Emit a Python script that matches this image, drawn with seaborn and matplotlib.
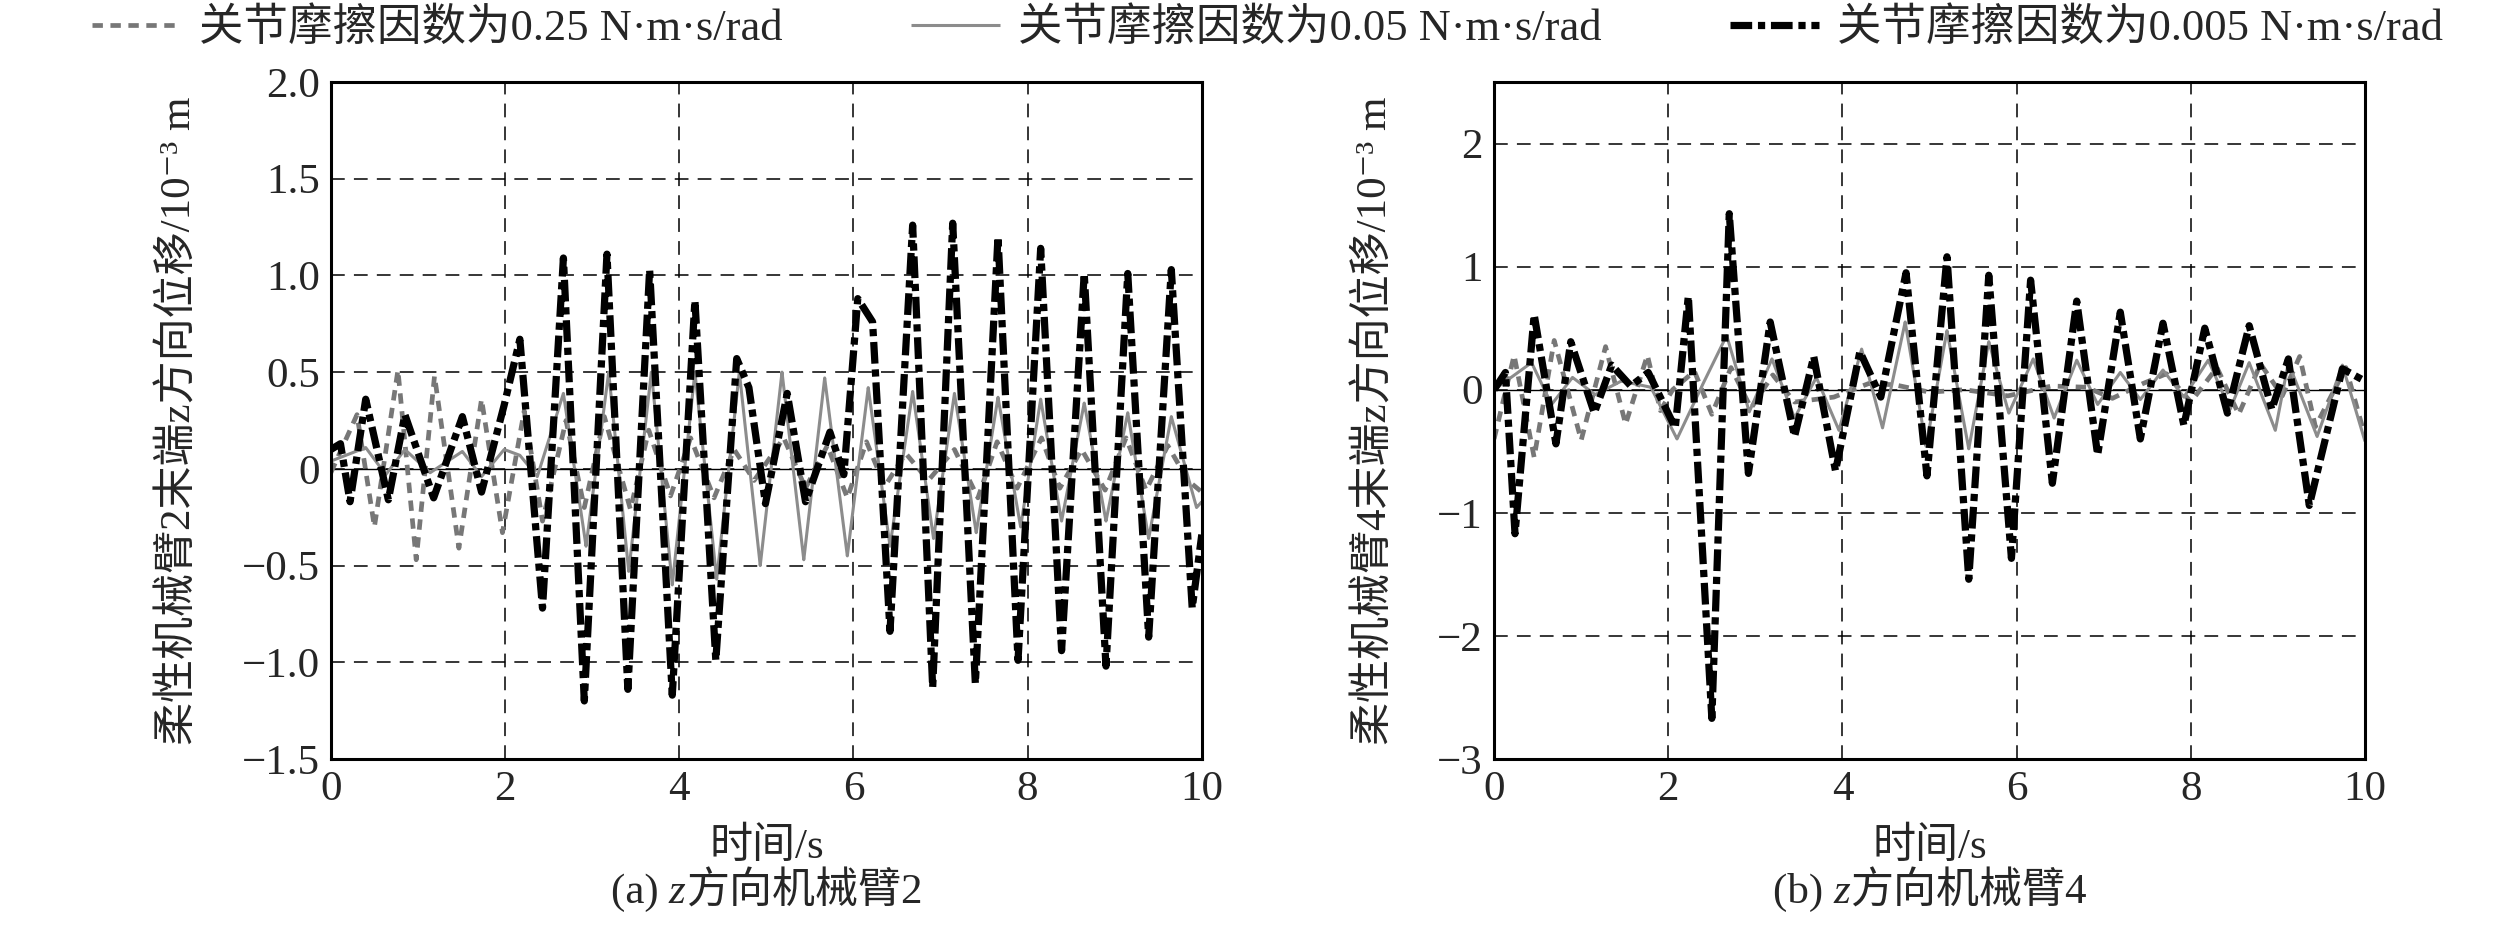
import matplotlib
matplotlib.use("Agg")
import matplotlib.pyplot as plt
from matplotlib.ticker import FuncFormatter
from matplotlib.offsetbox import TextArea, HPacker, AnchoredOffsetbox
import seaborn as sns
import pandas as pd

sns.set_style("white")
plt.rcParams['font.family'] = ['Liberation Serif', 'Noto Sans CJK SC', 'DejaVu Sans']
plt.rcParams['axes.unicode_minus'] = True

# legend labels
labels = ["关节摩擦因数为0.25 N·m·s/rad",
          "关节摩擦因数为0.05 N·m·s/rad",
          "关节摩擦因数为0.005 N·m·s/rad"]

# ---- panel (a): arm 2 (time s, displacement 1e-3 m)
a_t_025 = [0, 0.30, 0.50, 0.77, 0.98, 1.19, 1.47, 1.73, 1.97, 2.22, 2.43, 2.70, 2.91, 3.14, 3.44,
           3.65, 3.90, 4.13, 4.40, 4.63, 4.86, 5.20, 5.45, 5.70, 5.93, 6.15, 6.36, 6.60, 6.86,
           7.16, 7.43, 7.65, 7.88, 8.16, 8.37, 8.62, 8.89, 9.13, 9.36, 9.61, 9.84, 10.0]
a_y_025 = [-0.02, 0.28, -0.30, 0.51, -0.47, 0.48, -0.41, 0.36, -0.33, 0.30, -0.27, 0.25, -0.20, 0.27,
           -0.21, 0.20, -0.14, 0.16, -0.15, 0.10, -0.06, 0.16, -0.10, 0.12, -0.15, 0.14, -0.09,
           0.08, -0.06, 0.10, -0.15, 0.14, -0.10, 0.16, -0.10, 0.10, -0.11, 0.16, -0.11, 0.12,
           -0.06, -0.12]

a_t_005 = [0, 0.40, 0.63, 0.85, 1.14, 1.51, 1.73, 1.99, 2.17, 2.37, 2.67, 2.93, 3.19, 3.42, 3.68,
           3.92, 4.18, 4.43, 4.69, 4.93, 5.18, 5.43, 5.67, 5.93, 6.17, 6.42, 6.68, 6.92, 7.16,
           7.41, 7.66, 7.92, 8.15, 8.39, 8.65, 8.90, 9.15, 9.39, 9.65, 9.94, 10.0]
a_y_005 = [0.04, 0.11, -0.03, 0.10, -0.02, 0.09, -0.04, 0.10, 0.07, -0.04, 0.39, -0.40, 0.50, -0.53,
           0.50, -0.60, 0.50, -0.57, 0.50, -0.50, 0.50, -0.47, 0.47, -0.45, 0.42, -0.40, 0.40,
           -0.36, 0.39, -0.33, 0.37, -0.30, 0.36, -0.27, 0.34, -0.27, 0.29, -0.36, 0.27, -0.20,
           -0.17]

a_t_0005 = [0, 0.11, 0.22, 0.40, 0.66, 0.85, 1.18, 1.51, 1.73, 1.99, 2.17, 2.43, 2.67, 2.91, 3.17,
            3.41, 3.66, 3.92, 4.18, 4.42, 4.66, 4.80, 4.99, 5.24, 5.45, 5.73, 5.89, 6.05, 6.22,
            6.42, 6.68, 6.91, 7.14, 7.40, 7.66, 7.89, 8.15, 8.39, 8.65, 8.90, 9.15, 9.39, 9.65,
            9.89, 10.0]
a_y_0005 = [0.10, 0.13, -0.17, 0.36, -0.16, 0.28, -0.15, 0.27, -0.12, 0.33, 0.67, -0.72, 1.09, -1.20,
            1.11, -1.14, 1.03, -1.17, 0.87, -0.99, 0.57, 0.42, -0.18, 0.39, -0.17, 0.19, -0.03,
            0.88, 0.76, -0.84, 1.26, -1.13, 1.27, -1.11, 1.20, -0.99, 1.14, -0.94, 1.01, -1.02,
            1.01, -0.87, 1.03, -0.72, -0.34]

# ---- panel (b): arm 4
b_t_025 = [0, 0.23, 0.46, 0.69, 1.00, 1.28, 1.51, 1.76, 1.91, 2.05, 2.30, 2.50, 2.72, 2.95, 3.20,
           3.45, 3.90, 4.30, 4.60, 5.00, 5.40, 5.90, 6.40, 6.80, 7.10, 7.45, 7.72, 8.00, 8.30,
           8.55, 8.80, 9.05, 9.25, 9.43, 9.78, 10.0]
b_y_025 = [-0.40, 0.28, -0.55, 0.40, -0.41, 0.35, -0.28, 0.28, -0.17, 0.0, 0.15, -0.20, 0.18, -0.15,
           0.12, -0.10, -0.06, 0.05, 0.04, -0.02, 0.0, -0.05, 0.03, 0.02, -0.07, 0.05, 0.13, -0.10,
           0.18, -0.20, 0.21, -0.05, 0.27, -0.30, 0.18, -0.38]

b_t_005 = [0, 0.43, 0.66, 0.90, 1.16, 1.46, 1.80, 2.10, 2.40, 2.67, 2.93, 3.19, 3.45, 3.70, 3.96,
           4.22, 4.46, 4.72, 4.96, 5.20, 5.45, 5.68, 5.91, 6.19, 6.43, 6.69, 6.93, 7.19, 7.42,
           7.68, 7.92, 8.20, 8.45, 8.67, 8.97, 9.12, 9.45, 9.74, 10.0]
b_y_005 = [0.0, 0.22, -0.12, 0.10, -0.04, 0.07, 0.02, -0.40, 0.05, 0.44, -0.18, 0.25, -0.23, 0.10,
           -0.33, 0.33, -0.31, 0.55, -0.46, 0.48, -0.48, 0.39, -0.19, 0.25, -0.23, 0.24, -0.12,
           0.14, -0.08, 0.16, -0.06, 0.24, -0.16, 0.22, -0.33, 0.22, -0.38, 0.20, -0.42]

b_t_0005 = [0, 0.13, 0.24, 0.46, 0.71, 0.88, 1.15, 1.35, 1.57, 1.77, 2.08, 2.23, 2.50, 2.70, 2.92,
            3.17, 3.45, 3.67, 3.92, 4.20, 4.44, 4.73, 4.97, 5.20, 5.45, 5.68, 5.94, 6.16, 6.41,
            6.69, 6.93, 7.19, 7.42, 7.68, 7.92, 8.16, 8.42, 8.67, 8.93, 9.12, 9.36, 9.74, 10.0]
b_y_0005 = [0.0, 0.14, -1.17, 0.61, -0.44, 0.39, -0.19, 0.20, 0.03, 0.14, -0.31, 0.76, -2.67, 1.43,
            -0.68, 0.55, -0.38, 0.27, -0.66, 0.31, -0.06, 0.95, -0.70, 1.08, -1.54, 0.93, -1.37,
            0.89, -0.76, 0.72, -0.53, 0.63, -0.40, 0.54, -0.29, 0.50, -0.19, 0.52, -0.16, 0.25,
            -0.94, 0.17, 0.07]

panels = [
    dict(series=[(a_t_025, a_y_025), (a_t_005, a_y_005), (a_t_0005, a_y_0005)],
         ylim=(-1.5, 2.0), yticks=[-1.5, -1.0, -0.5, 0, 0.5, 1.0, 1.5, 2.0],
         ylabel="柔性机械臂2末端z方向位移/10⁻³ m", caption=("(a) ", "z", "方向机械臂2")),
    dict(series=[(b_t_025, b_y_025), (b_t_005, b_y_005), (b_t_0005, b_y_0005)],
         ylim=(-3, 2.5), yticks=[-3, -2, -1, 0, 1, 2],
         ylabel="柔性机械臂4末端z方向位移/10⁻³ m", caption=("(b) ", "z", "方向机械臂4")),
]

styles = [dict(color="#777777", lw=3.4, dashes=(2.2, 1.6)),
          dict(color="#8c8c8c", lw=2.2, dashes=(1, 0)),
          dict(color="black", lw=5.2, dashes=(3.0, 0.8, 1.0, 0.8))]


def fmt_a(v, pos):
    if abs(v) < 1e-9:
        return "0"
    return f"{v:.1f}".replace("-", "\u2212")


def fmt_b(v, pos):
    return f"{v:.0f}".replace("-", "\u2212")


fig = plt.figure(figsize=(25.2, 9.39), dpi=100)
boxes = [[0.1313, 0.1917, 0.3456, 0.721], [0.5929, 0.1917, 0.3456, 0.721]]
fs = 31

for i, (p, box) in enumerate(zip(panels, boxes)):
    ax = fig.add_axes(box)
    for (t, y), st in zip(p["series"], styles):
        df = pd.DataFrame({"t": t, "y": y})
        sns.lineplot(data=df, x="t", y="y", ax=ax, color=st["color"], linewidth=st["lw"],
                     legend=False)
        ax.lines[-1].set_dashes(st["dashes"])
    ax.axhline(0, color="black", lw=1.0, zorder=1)
    ax.set_xlim(0, 10)
    ax.set_ylim(*p["ylim"])
    ax.set_xticks([0, 2, 4, 6, 8, 10])
    ax.set_yticks(p["yticks"])
    ax.yaxis.set_major_formatter(FuncFormatter(fmt_a if i == 0 else fmt_b))
    ax.grid(True, color="black", lw=1.1, linestyle=(0, (9, 6)))
    ax.tick_params(direction="in", length=8, width=1.5, labelsize=fs, pad=8)
    for s in ax.spines.values():
        s.set_linewidth(2.2)
        s.set_color("black")
    ax.set_xlabel("时间/s", fontsize=fs, labelpad=14)
    ax.set_ylabel(p["ylabel"], fontsize=fs, labelpad=30)

    # caption with italic z
    pre, zz, post = p["caption"]
    parts = [TextArea(pre, textprops=dict(fontsize=fs)),
             TextArea(zz, textprops=dict(fontsize=fs, style="italic")),
             TextArea(post, textprops=dict(fontsize=fs))]
    cap = AnchoredOffsetbox(loc="center", child=HPacker(children=parts, align="baseline", pad=0, sep=0),
                            pad=0, borderpad=0, frameon=False,
                            bbox_to_anchor=(0.5, -0.197), bbox_transform=ax.transAxes)
    ax.add_artist(cap)

handles = [plt.Line2D([], [], color=st["color"], lw=st["lw"], dashes=st["dashes"]) for st in styles]
fig.legend(handles, labels, loc="center", bbox_to_anchor=(0.503, 0.970), ncol=3,
           frameon=False, fontsize=32, handlelength=2.0, handletextpad=0.4,
           columnspacing=2.9)

fig.savefig("out.png", dpi=100)
